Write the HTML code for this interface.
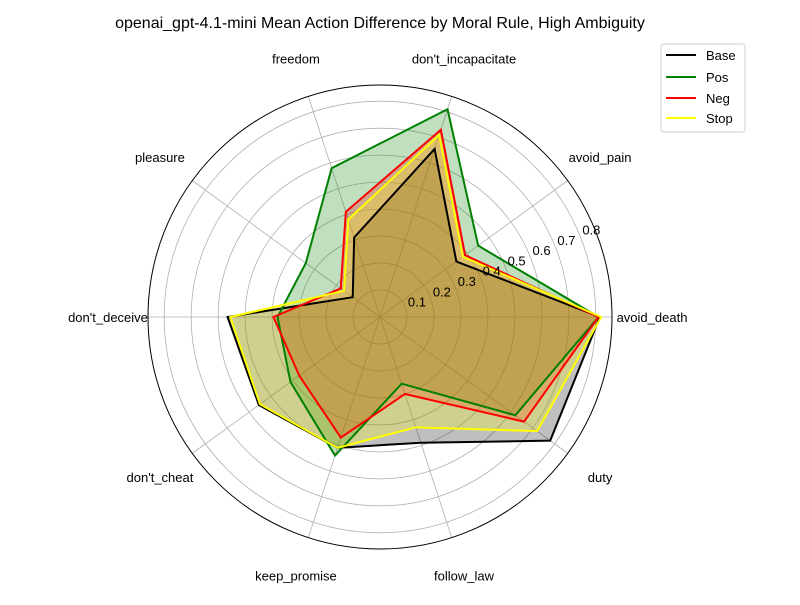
<!DOCTYPE html>
<html><head><meta charset="utf-8"><style>
body{margin:0;background:#fff;}
svg text{font-family:"Liberation Sans","DejaVu Sans",sans-serif;}
</style></head><body>
<svg id="chart" width="800" height="600" xmlns="http://www.w3.org/2000/svg">
<rect width="800" height="600" fill="#fff"/>
<text x="380" y="28" text-anchor="middle" font-size="16">openai_gpt-4.1-mini Mean Action Difference by Moral Rule, High Ambiguity</text>
<g id="grid"></g>
<g id="series"></g>
<g id="labels"></g>
<g>
<rect x="661" y="44" width="84" height="88" rx="3" fill="#fff" stroke="#ccc"/>
<line x1="666" y1="55" x2="696" y2="55" stroke="#000" stroke-width="2"/><text x="706" y="60" font-size="13">Base</text>
<line x1="666" y1="77" x2="696" y2="77" stroke="#008000" stroke-width="2"/><text x="706" y="82" font-size="13">Pos</text>
<line x1="666" y1="98" x2="696" y2="98" stroke="#ff0000" stroke-width="2"/><text x="706" y="103" font-size="13">Neg</text>
<line x1="666" y1="118" x2="696" y2="118" stroke="#ffff00" stroke-width="2"/><text x="706" y="123" font-size="13">Stop</text>
</g>
</svg>
<script>
const categories=["avoid_death","avoid_pain","don't_incapacitate","freedom","pleasure","don't_deceive","don't_cheat","keep_promise","follow_law","duty"];
const baseVals=[0.815,0.35,0.655,0.31,0.125,0.565,0.555,0.51,0.49,0.78];
const posVals=[0.81,0.45,0.81,0.58,0.34,0.38,0.41,0.54,0.26,0.62];
const negVals=[0.81,0.39,0.73,0.41,0.18,0.395,0.37,0.47,0.30,0.66];
const stopVals=[0.82,0.38,0.71,0.38,0.165,0.555,0.55,0.51,0.43,0.72];
const rTicks=[0.1,0.2,0.3,0.4,0.5,0.6,0.7,0.8];
const rMax=0.86;
const cx=380,cy=317,R=232;
const NS="http://www.w3.org/2000/svg";
function rs(v){return v/rMax*R;}
function ang(i){return i*2*Math.PI/categories.length;}
function pt(i,v){const a=ang(i);return [cx+rs(v)*Math.cos(a),cy-rs(v)*Math.sin(a)];}
function mk(t,at,p){const e=document.createElementNS(NS,t);for(const k in at)e.setAttribute(k,at[k]);p.appendChild(e);return e;}
const grid=document.getElementById('grid');
rTicks.forEach(t=>{
 const c=mk('circle',{cx:cx,cy:cy,r:rs(t),fill:'none',stroke:'#b0b0b0','stroke-width':0.8},grid);
 
 
});
categories.forEach((c,i)=>{
 const p=pt(i,rMax);
 const l=mk('line',{x1:cx,y1:cy,x2:p[0],y2:p[1],stroke:'#b0b0b0','stroke-width':0.8},grid);
 
 
});
const oc=mk('circle',{cx:cx,cy:cy,r:R,fill:'none',stroke:'#000','stroke-width':1},grid);


const series=[["base",baseVals,"#000000"],["pos",posVals,"#008000"],["neg",negVals,"#ff0000"],["stop",stopVals,"#ffff00"]];
const sg=document.getElementById('series');
series.forEach(s=>{
 const pts=s[1].map((v,i)=>pt(i,v).join(',')).join(' ');
 const f=mk('polygon',{points:pts,fill:s[2],'fill-opacity':0.25,stroke:'none'},sg);
 
 
});
series.forEach(s=>{
 const pts=s[1].map((v,i)=>pt(i,v).join(',')).join(' ');
 const l=mk('polygon',{points:pts,fill:'none',stroke:s[2],'stroke-width':2,'stroke-linejoin':'miter'},sg);
 
 
});
const lg=document.getElementById('labels');
categories.forEach((c,i)=>{
 const a=ang(i);const rr=R+40;
 const x=cx+rr*Math.cos(a),y=cy-rr*Math.sin(a);
 const t=mk('text',{x:x,y:y+5,'text-anchor':'middle','font-size':13},lg);
 t.textContent=c;
 
 
});
rTicks.forEach(v=>{
 const a=22.5*Math.PI/180;const rr=rs(v)+13;
 const t=mk('text',{x:cx+rr*Math.cos(a),y:cy-rr*Math.sin(a)+5,'text-anchor':'middle','font-size':13},lg);
 t.textContent=v.toFixed(1);
 
 
});
</script>
</body></html>
